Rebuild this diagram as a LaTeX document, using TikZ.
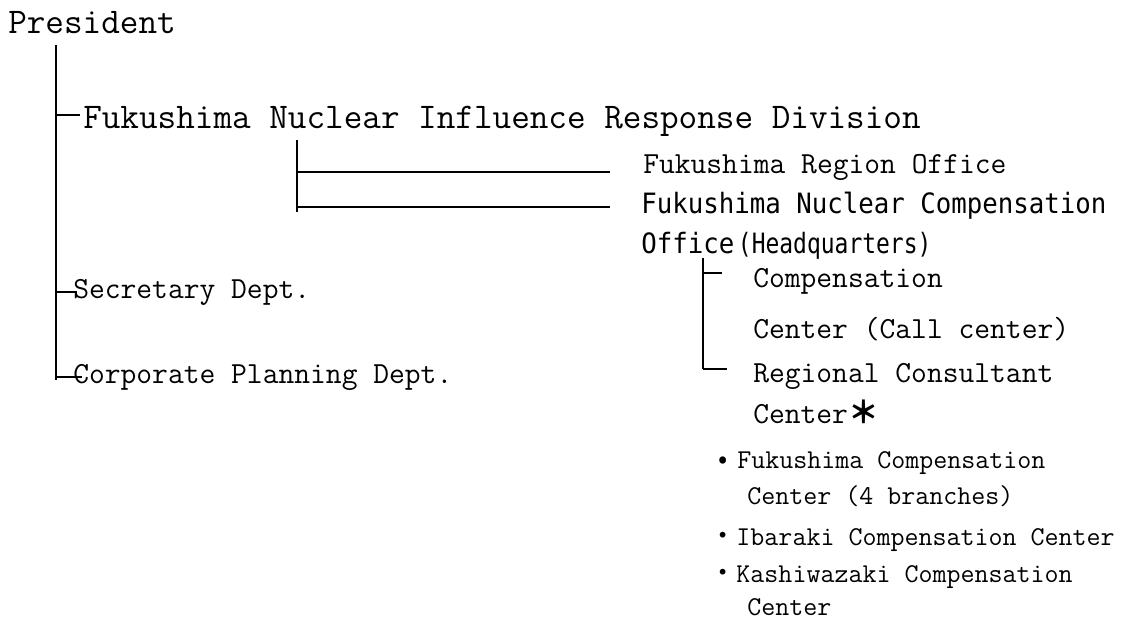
\documentclass[tikz,border=0pt]{standalone}
\usepackage{fontspec}
\newfontfamily\gothic[FakeStretch=0.92,Ligatures=CommonOff]{DejaVu Sans Mono}
\newfontfamily\gothicn[FakeStretch=0.82,Ligatures=CommonOff]{DejaVu Sans Mono}
\newfontfamily\cjk{Noto Sans CJK JP}
\tikzset{
  bigtxt/.style={anchor=base west,inner sep=0pt,font=\ttfamily\fontsize{27.1}{30}\selectfont},
  midtxt/.style={anchor=base west,inner sep=0pt,font=\ttfamily\fontsize{23}{26}\selectfont},
  smalltxt/.style={anchor=base west,inner sep=0pt,font=\ttfamily\fontsize{20.4}{23}\selectfont},
  gothtxt/.style={anchor=base west,inner sep=0pt,font=\gothic\fontsize{21}{24}\selectfont},
  tree/.style={line width=1.5pt},
  twig/.style={line width=1.1pt}
}
\begin{document}
\begin{tikzpicture}[x=0.75pt,y=-0.75pt]
\useasboundingbox (0,0) rectangle (1132,621);
% top level
\node [bigtxt] (pres) at (8,33) {President};
\node [bigtxt] (div) at (83,128) {Fukushima Nuclear Influence Response Division};
\node [midtxt] (sec) at (73,298) {Secretary Dept.};
\node [midtxt] (corp) at (73,383) {Corporate Planning Dept.};
% under the division
\node [midtxt] (reg) at (643,173) {Fukushima Region Office};
\node [gothtxt] (comp) at (641,213) {Fukushima Nuclear Compensation};
\node [gothtxt] (compb) at (641,253) {\makebox[69.5pt][s]{O\hfil f\hfil f\hfil i\hfil c\hfil e}\hspace{3pt}{\gothicn(Headquarters)}};
% under the compensation office
\node [midtxt] (cc) at (753,287) {Compensation};
\node [midtxt] (ccb) at (753,338) {Center (Call center)};
\node [midtxt] (rc) at (753,382) {Regional Consultant};
\node [midtxt] (rcb) at (753,423) {Center{\cjk\bfseries ＊}};
% branches
\node [smalltxt] (fk) at (709,468) {\makebox[21pt][c]{\cjk •}Fukushima Compensation};
\node [smalltxt] (fkb) at (747,504) {Center (4 branches)};
\node [smalltxt] (ib) at (709,545) {{\cjk ・}Ibaraki Compensation Center};
\node [smalltxt] (ks) at (709,582) {{\cjk ・}Kashiwazaki Compensation};
\node [smalltxt] (ksb) at (747,615) {Center};
% president's line
\coordinate (pres-out) at (56,45);
\coordinate (pres-end) at (56,380);
\coordinate (div-in) at (80,115);
\coordinate (sec-in) at (77,292);
\coordinate (corp-in) at (82,377);
\draw [tree] (pres-out) -- (pres-end);
\foreach \c in {div-in,sec-in,corp-in}
  \draw [tree] (\c -| pres-out) -- (\c);
% division's line
\coordinate (div-out) at (297,140);
\coordinate (div-end) at (297,212);
\coordinate (reg-in) at (610,172);
\coordinate (comp-in) at (610,207);
\draw [tree] (div-out) -- (div-end);
\draw [twig] (reg-in -| div-out) -- (reg-in);
\draw [tree] (comp-in -| div-out) -- (comp-in);
% office's line
\coordinate (comp-out) at (703,258);
\coordinate (comp-end) at (703,369);
\coordinate (cc-in) at (722,273);
\coordinate (rc-in) at (727,369);
\draw [tree] (comp-out) -- (comp-end);
\draw [twig] (cc-in -| comp-out) -- (cc-in);
\draw [twig] (rc-in -| comp-out) -- (rc-in);
\end{tikzpicture}
\end{document}
